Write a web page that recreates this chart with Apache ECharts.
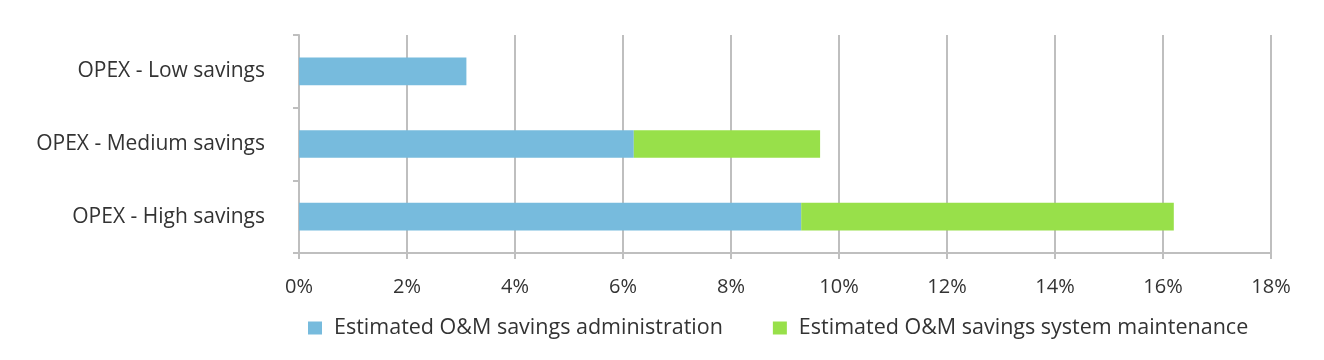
<!DOCTYPE html>
<html><head><meta charset="utf-8">
<script src="https://cdn.jsdelivr.net/npm/echarts@6/dist/echarts.min.js"></script>
<style>html,body{margin:0;padding:0;background:#fff}#c{width:1324px;height:360px}</style>
</head><body><div id="c"></div>
<script>
var categories = ['OPEX - Low savings', 'OPEX - Medium savings', 'OPEX - High savings'];
var adminSavings = [3.1, 6.2, 9.3];
var maintenanceSavings = [0, 3.45, 6.9];
var seriesNames = ['Estimated O&M savings administration', 'Estimated O&M savings system maintenance'];
var xMax = 18, xInterval = 2;

var font = '"Open Sans", sans-serif';
var textColor = '#333333';
var chart = echarts.init(document.getElementById('c'));
chart.setOption({
  animation: false,
  grid: {left: 299, right: 53, top: 35, bottom: 107},
  legend: {
    top: 312, left: 303, itemWidth: 14, itemHeight: 13, itemGap: 50, icon: 'rect',
    textStyle: {fontFamily: font, fontSize: 21.5, color: textColor, padding: [0, 0, 0, 7]},
    data: seriesNames
  },
  xAxis: {
    type: 'value', min: 0, max: xMax, interval: xInterval,
    axisLabel: {formatter: '{value}%', fontFamily: font, fontSize: 20, color: textColor, margin: 24},
    axisLine: {show: true, lineStyle: {color: '#bfbfbf', width: 2}},
    axisTick: {show: true, length: 6, lineStyle: {color: '#bfbfbf', width: 2}},
    splitLine: {show: true, lineStyle: {color: '#bfbfbf', width: 2}}
  },
  yAxis: {
    type: 'category', data: categories, inverse: true,
    axisLabel: {fontFamily: font, fontSize: 21, color: textColor, margin: 34},
    axisLine: {show: true, lineStyle: {color: '#bfbfbf', width: 2}},
    axisTick: {show: true, length: 6, lineStyle: {color: '#bfbfbf', width: 2}}
  },
  series: [
    {name: seriesNames[0], type: 'bar', stack: 's', data: adminSavings, barWidth: '38%', itemStyle: {color: '#77bbdd'}},
    {name: seriesNames[1], type: 'bar', stack: 's', data: maintenanceSavings, barWidth: '38%', itemStyle: {color: '#98e04a'}}
  ]
});
</script></body></html>
